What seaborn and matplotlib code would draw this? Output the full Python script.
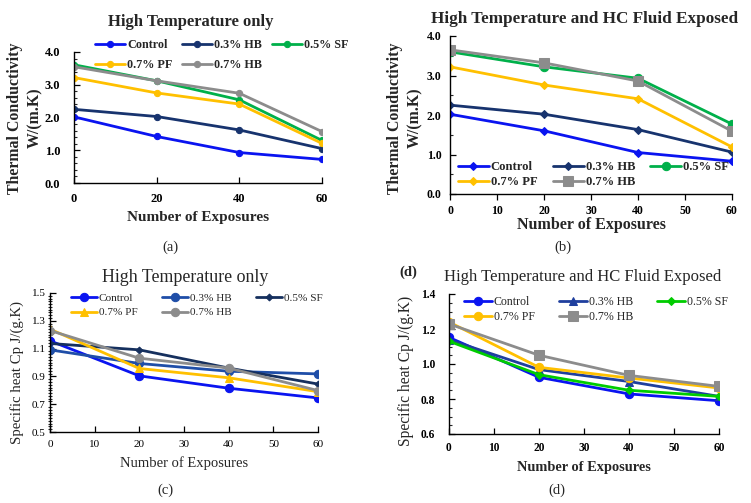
import numpy as np
import pandas as pd
import matplotlib
matplotlib.use("Agg")
import matplotlib.pyplot as plt
from matplotlib.ticker import MultipleLocator, FormatStrFormatter
import seaborn as sns

sns.set_theme(style="white")
plt.rcParams['font.family'] = ['Liberation Serif', 'DejaVu Serif']

exposures = [0, 20, 40, 60]
series_names = ["Control", "0.3% HB", "0.5% SF", "0.7% PF", "0.7% HB"]

# (a) Thermal conductivity, high temperature only
tc_a_control = [2.02, 1.42, 0.93, 0.72]
tc_a_hb03 = [2.25, 2.03, 1.62, 1.05]
tc_a_sf05 = [3.61, 3.12, 2.54, 1.30]
tc_a_pf07 = [3.22, 2.75, 2.41, 1.21]
tc_a_hb07 = [3.55, 3.12, 2.74, 1.57]

# (b) Thermal conductivity, high temperature and HC fluid
tc_b_control = [2.02, 1.60, 1.05, 0.83]
tc_b_hb03 = [2.25, 2.02, 1.63, 1.06]
tc_b_sf05 = [3.60, 3.22, 2.93, 1.77]
tc_b_pf07 = [3.22, 2.76, 2.41, 1.19]
tc_b_hb07 = [3.65, 3.32, 2.86, 1.59]

# (c) Specific heat, high temperature only
cp_c_control = [1.156, 0.904, 0.815, 0.745]
cp_c_hb03 = [1.091, 0.993, 0.937, 0.918]
cp_c_sf05 = [1.137, 1.091, 0.960, 0.845]
cp_c_pf07 = [1.240, 0.957, 0.890, 0.790]
cp_c_hb07 = [1.230, 1.031, 0.960, 0.798]

# (d) Specific heat, high temperature and HC fluid
cp_d_control = [1.152, 0.924, 0.829, 0.790]
cp_d_hb03 = [1.139, 0.968, 0.900, 0.815]
cp_d_sf05 = [1.130, 0.939, 0.850, 0.815]
cp_d_pf07 = [1.240, 0.981, 0.920, 0.863]
cp_d_hb07 = [1.229, 1.050, 0.935, 0.872]

W, H = 751, 503
fig = plt.figure(figsize=(W / 100, H / 100), dpi=100)


def px_axes(l, t, r, b):
    return fig.add_axes([l / W, 1 - b / H, (r - l) / W, (b - t) / H])


def fx(x):
    return x / W


def fy(y):
    return 1 - y / H


def draw(ax, data, colors, markers, msizes, tick_fs, xdir, xpad, ypad):
    for name, vals, c, m, ms in zip(series_names, data, colors, markers, msizes):
        df = pd.DataFrame({"x": exposures, "y": vals})
        sns.lineplot(data=df, x="x", y="y", ax=ax, color=c, marker=m,
                     markersize=ms, markeredgecolor=c, linewidth=2.0,
                     label=name, legend=False)
    ax.set_xlim(0, 60)
    for s in ["top", "right"]:
        ax.spines[s].set_visible(False)
    for s in ["left", "bottom"]:
        ax.spines[s].set_color("black")
        ax.spines[s].set_linewidth(1.0)
    ax.tick_params(axis="both", which="major", labelsize=tick_fs, colors="black",
                   length=4, width=0.9)
    ax.tick_params(axis="y", which="both", direction="in", left=True, pad=ypad)
    ax.tick_params(axis="y", which="minor", length=2.5, width=0.8)
    ax.tick_params(axis="x", direction=xdir, bottom=True, pad=xpad)
    ax.set_xlabel("")
    ax.set_ylabel("")
    return ax.get_lines()


def fmt_ticks(ax, weight):
    for lab in ax.get_xticklabels() + ax.get_yticklabels():
        lab.set_fontweight(weight)


def make_legend(ax, lines, anchor_px, fs, weight, hl, cs, ls, htp=0.15):
    order = [0, 3, 1, 4, 2]
    leg = ax.legend([lines[i] for i in order], [series_names[i] for i in order],
                    ncol=3, loc="upper left",
                    bbox_to_anchor=(fx(anchor_px[0]), fy(anchor_px[1])),
                    bbox_transform=fig.transFigure, frameon=False,
                    handlelength=hl, handletextpad=htp,
                    columnspacing=cs, labelspacing=ls, borderaxespad=0,
                    borderpad=0, prop={"weight": weight, "size": fs})
    return leg


COL_CTRL = "#0A14F0"
COL_GOLD = "#FFC000"
COL_GRAY = "#8C8C8C"

# ---------- (a)
axa = px_axes(74, 52, 322, 183)
la = draw(axa, [tc_a_control, tc_a_hb03, tc_a_sf05, tc_a_pf07, tc_a_hb07],
          [COL_CTRL, "#17336E", "#00B04A", COL_GOLD, COL_GRAY],
          ["o", "o", "o", "o", "o"], [4.5] * 5, 9, "in", 7, 10)
axa.set_ylim(0, 4)
axa.set_xticks([0, 20, 40, 60])
axa.yaxis.set_major_locator(MultipleLocator(1.0))
axa.yaxis.set_minor_locator(MultipleLocator(0.2))
axa.yaxis.set_major_formatter(FormatStrFormatter("%.1f"))
fmt_ticks(axa, "bold")
make_legend(axa, la, (95, 39), 8.7, "bold", 2.5, 0.8, 0.65)
fig.text(fx(191), fy(22), "High Temperature only", ha="center", va="center",
         fontsize=12, fontweight="bold")
fig.text(fx(198), fy(218), "Number of Exposures", ha="center", va="center",
         fontsize=11, fontweight="bold")
fig.text(fx(15), fy(118), "Thermal Conductivity", ha="center", va="center",
         rotation=90, fontsize=11.4, fontweight="bold")
fig.text(fx(35), fy(118), "W/(m.K)", ha="center", va="center",
         rotation=90, fontsize=11.4, fontweight="bold")
fig.text(fx(170), fy(247), "(a)", ha="center", va="center", fontsize=10.5)

# ---------- (b)
axb = px_axes(450, 36, 732, 194)
lb = draw(axb, [tc_b_control, tc_b_hb03, tc_b_sf05, tc_b_pf07, tc_b_hb07],
          [COL_CTRL, "#17336E", "#00B04A", COL_GOLD, COL_GRAY],
          ["D", "D", "o", "D", "s"], [4, 4, 6, 4, 6.5], 8.5, "out", 4, 6)
axb.set_ylim(0, 4)
axb.set_xticks(range(0, 61, 10))
axb.yaxis.set_major_locator(MultipleLocator(1.0))
axb.yaxis.set_minor_locator(MultipleLocator(0.5))
axb.yaxis.set_major_formatter(FormatStrFormatter("%.1f"))
fmt_ticks(axb, "bold")
make_legend(axb, lb, (458, 161), 9.1, "bold", 2.45, 1.2, 0.27)
fig.text(fx(585), fy(19), "High Temperature and HC Fluid Exposed", ha="center",
         va="center", fontsize=12.3, fontweight="bold")
fig.text(fx(591), fy(225), "Number of Exposures", ha="center", va="center",
         fontsize=11.5, fontweight="bold")
fig.text(fx(395), fy(118), "Thermal Conductivity", ha="center", va="center",
         rotation=90, fontsize=11.4, fontweight="bold")
fig.text(fx(415), fy(118), "W/(m.K)", ha="center", va="center",
         rotation=90, fontsize=11.4, fontweight="bold")
fig.text(fx(563), fy(247), "(b)", ha="center", va="center", fontsize=10.5)

# ---------- (c)
axc = px_axes(50, 293, 318, 432)
lc = draw(axc, [cp_c_control, cp_c_hb03, cp_c_sf05, cp_c_pf07, cp_c_hb07],
          [COL_CTRL, "#1F4EA8", "#16305E", COL_GOLD, COL_GRAY],
          ["o", "o", "D", "^", "o"], [6, 6, 3.5, 5.5, 6], 8, "in", 6, 3)
axc.set_ylim(0.5, 1.5)
axc.set_xticks(range(0, 61, 10))
axc.set_yticks([0.5, 0.7, 0.9, 1.1, 1.3, 1.5])
axc.yaxis.set_minor_locator(MultipleLocator(0.02))
axc.yaxis.set_major_formatter(FormatStrFormatter("%.1f"))
axc.tick_params(axis="y", which="minor", direction="inout", length=3)
fmt_ticks(axc, "normal")
make_legend(axc, lc, (71, 293), 8.1, "normal", 2.3, 2.2, 0.42)
fig.text(fx(185), fy(278), "High Temperature only", ha="center", va="center",
         fontsize=12.9)
fig.text(fx(184), fy(463), "Number of Exposures", ha="center", va="center",
         fontsize=10.5)
fig.text(fx(17), fy(372), "Specific heat Cp J/(g.K)", ha="center", va="center",
         rotation=90, fontsize=10.6)
fig.text(fx(165), fy(490), "(c)", ha="center", va="center", fontsize=10.5)

# ---------- (d)
axd = px_axes(449, 294, 719, 434)
ld = draw(axd, [cp_d_control, cp_d_hb03, cp_d_sf05, cp_d_pf07, cp_d_hb07],
          [COL_CTRL, "#1F3F9E", "#00CC00", COL_GOLD, COL_GRAY],
          ["o", "^", "D", "o", "s"], [6, 5.5, 4, 6, 6.5], 8.3, "in", 6, 10)
axd.set_ylim(0.6, 1.4)
axd.set_xticks(range(0, 61, 10))
axd.yaxis.set_major_locator(MultipleLocator(0.2))
axd.yaxis.set_minor_locator(MultipleLocator(0.05))
axd.yaxis.set_major_formatter(FormatStrFormatter("%.1f"))
fmt_ticks(axd, "bold")
make_legend(axd, ld, (464, 296), 8.6, "normal", 2.35, 2.0, 0.26)
fig.text(fx(583), fy(277), "High Temperature and HC Fluid Exposed", ha="center",
         va="center", fontsize=12)
fig.text(fx(584), fy(468), "Number of Exposures", ha="center", va="center",
         fontsize=10.4, fontweight="bold")
fig.text(fx(406), fy(371), "Specific heat Cp J/(g.K)", ha="center", va="center",
         rotation=90, fontsize=11.2)
fig.text(fx(408), fy(272), "(d)", ha="center", va="center", fontsize=10.5,
         fontweight="bold")
fig.text(fx(557), fy(490), "(d)", ha="center", va="center", fontsize=10.5)

fig.savefig("out.png", dpi=100)
